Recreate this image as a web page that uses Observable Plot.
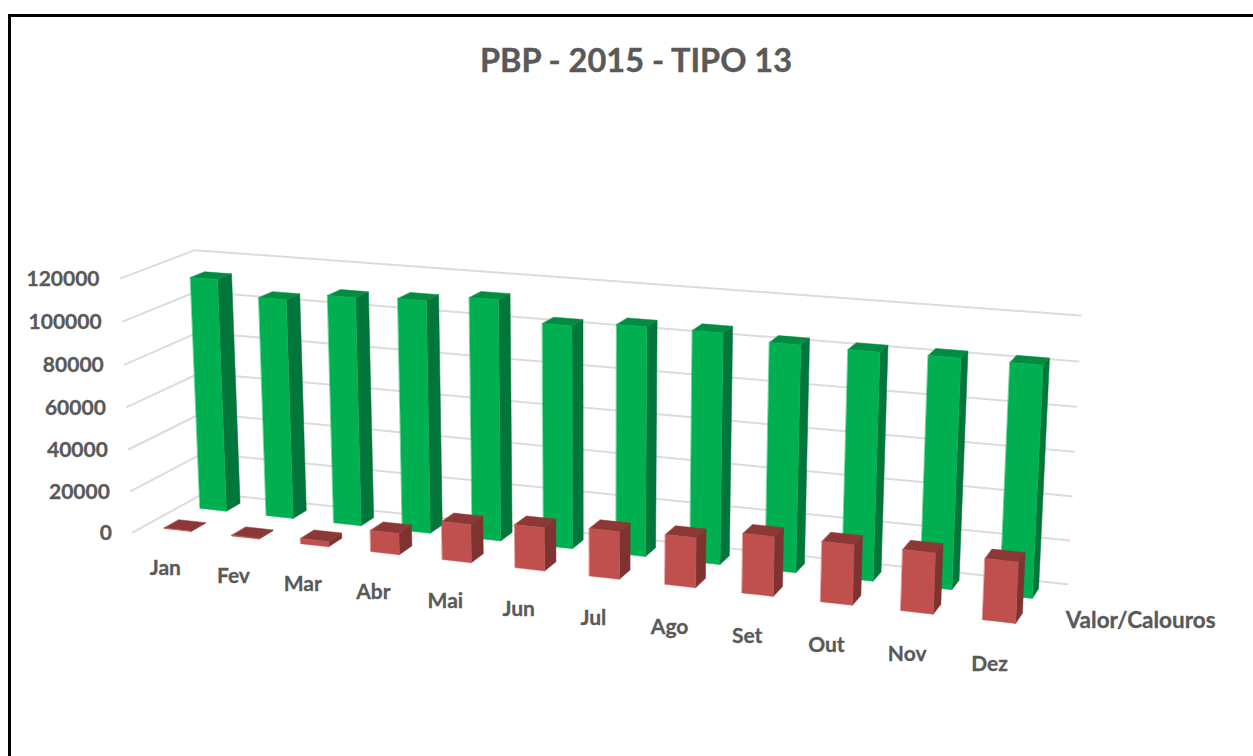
<!DOCTYPE html>
<html><head><meta charset="utf-8">
<script src="https://cdn.jsdelivr.net/npm/d3@7"></script>
<script src="https://cdn.jsdelivr.net/npm/@observablehq/plot@0.6"></script>
<style>
html,body{margin:0;background:#fff}
#chart{position:relative;width:1253px;height:756px;overflow:hidden}
#frame{position:absolute;left:8px;top:14px;right:-10px;bottom:-10px;border-left:3px solid #000;border-top:3px solid #000}
#title{position:absolute;left:8px;width:1256px;top:41px;text-align:center;font:bold 32.5px Lato,sans-serif;color:#595959;line-height:38px;-webkit-text-stroke:.4px #595959}
#chart svg{position:absolute;left:0;top:0}
</style></head><body>
<div id="chart"><div id="frame"></div><div id="title">PBP - 2015 - TIPO 13</div></div>
<script>
const months = ["Jan","Fev","Mar","Abr","Mai","Jun","Jul","Ago","Set","Out","Nov","Dez"];
const valor = [112300,105300,108800,110000,113000,103700,106000,106000,103400,103000,103200,103000];
const calouros = [300,400,2500,10000,17800,20000,21800,22700,26900,27000,27100,26900];
const ticks = [0,20000,40000,60000,80000,100000,120000];
const seriesLabel = "Valor/Calouros";

// Perspective camera of the 3-D chart box: month slot X, series depth D, value V.
const cam = [65.886854,41.084975,-1.291485,132.416897,2.737241,-7.384467,-21.785448,531.987424,-0.009032,0.025356,-0.002180];
function project(X,D,value){
  const V = value/10000;
  const w = cam[8]*X+cam[9]*D+cam[10]*V+1;
  return [(cam[0]*X+cam[1]*D+cam[2]*V+cam[3])/w,(cam[4]*X+cam[5]*D+cam[6]*V+cam[7])/w];
}
const vertex = (X,D,V,z)=>{const [x,y]=project(X,D,V);return {x,y,z};};
const half = 0.2;
function faces(values,slot){
  const front=[],side=[],top=[];
  values.forEach((v,i)=>{
    const a=i+.5-half,b=i+.5+half,n=slot+.5-half,f=slot+.5+half;
    for(const p of [[a,n,0],[b,n,0],[b,n,v],[a,n,v]]) front.push(vertex(...p,i));
    for(const p of [[b,n,0],[b,f,0],[b,f,v],[b,n,v]]) side.push(vertex(...p,i));
    for(const p of [[a,n,v],[b,n,v],[b,f,v],[a,f,v]]) top.push(vertex(...p,i));
  });
  return {front,side,top};
}
const poly=(rows,c)=>Plot.line(rows,{x:"x",y:"y",z:"z",fill:c,stroke:c,strokeWidth:.5,curve:"linear-closed"});
const grid=ticks.flatMap(t=>[[0,0],[0,2],[12,2]].map(([X,D])=>vertex(X,D,t,t)));
const g=faces(valor,1), r=faces(calouros,0);
const font={fontFamily:"Lato, sans-serif",fontWeight:"bold",fill:"#595959",stroke:"#595959",strokeWidth:.3};
const labelPos=i=>project(1.15+.96*i,-1.22,0);

const svg=Plot.plot({
  width:1253,height:756,margin:0,style:{background:"transparent"},
  x:{domain:[0,1253],range:[0,1253],axis:null},
  y:{domain:[0,756],range:[0,756],axis:null},
  marks:[
    Plot.line(grid,{x:"x",y:"y",z:"z",stroke:"#dcdcdc",strokeWidth:2,curve:"linear"}),
    poly(g.side,"#00763A"),poly(g.top,"#008C41"),poly(g.front,"#00B050"),
    poly(r.side,"#7F3331"),poly(r.top,"#8C3836"),poly(r.front,"#C0504D"),
    Plot.text(ticks,{x:t=>project(0,0,t)[0],y:t=>project(0,0,t)[1],text:t=>String(t),textAnchor:"end",dx:-21,dy:1,fontSize:21,...font}),
    Plot.text(months,{x:(m,i)=>labelPos(i)[0],y:(m,i)=>labelPos(i)[1],text:d=>d,fontSize:21,...font}),
    Plot.text([seriesLabel],{x:()=>project(12,1.5,0)[0],y:()=>project(12,1.5,0)[1],text:d=>d,textAnchor:"start",dx:6,dy:25,fontSize:22.5,...font})
  ]
});
document.getElementById("chart").appendChild(svg);
</script></body></html>
